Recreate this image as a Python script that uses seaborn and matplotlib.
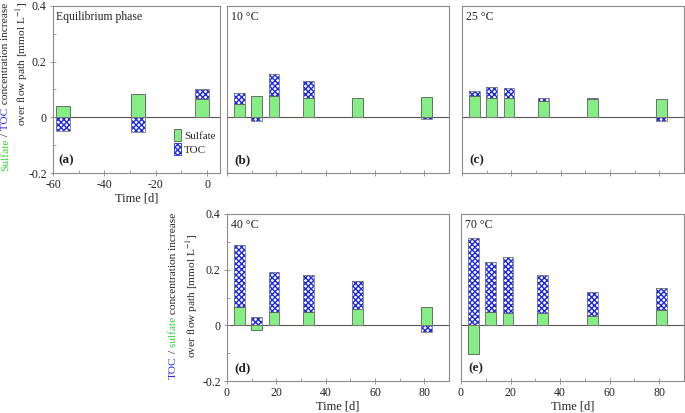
import numpy as np
import matplotlib.pyplot as plt
from matplotlib.patches import Patch
import seaborn as sns

# equilibrium phase, days before the start of the heating
eq_days = [-56, -27, -2]
eq_sulfate = [0.042, 0.085, 0.067]
eq_toc = [-0.048, -0.053, 0.033]

# sampling days for the temperature steps
days = [5, 12, 19, 33, 53, 81]
sulfate_10 = [0.049, 0.075, 0.077, 0.071, 0.070, 0.072]
toc_10 = [0.040, -0.014, 0.078, 0.058, 0.0, -0.007]
sulfate_25 = [0.078, 0.071, 0.071, 0.057, 0.065, 0.067]
toc_25 = [0.016, 0.039, 0.036, 0.011, 0.003, -0.012]
sulfate_40 = [0.067, -0.018, 0.049, 0.049, 0.059, 0.065]
toc_40 = [0.222, 0.029, 0.143, 0.131, 0.101, -0.024]
sulfate_70 = [-0.102, 0.047, 0.044, 0.043, 0.033, 0.056]
toc_70 = [0.313, 0.181, 0.202, 0.137, 0.086, 0.077]

y_ticks = [-0.2, 0, 0.2, 0.4]
y_ticklabels = ["-0.2", "0", "0.2", "0.4"]

GREEN = "#84ee84"
BLUE = "#1c2ae8"
GREEN_TXT = "#2bd42b"
BLUE_TXT = "#2a2aff"
FRAME = "#8c8c8c"
TXT = "#222222"
HATCH = "xxxxxx"

sns.set_style("ticks")
plt.rcParams["font.family"] = ["Liberation Serif", "DejaVu Serif"]
plt.rcParams["mathtext.fontset"] = "stix"
plt.rcParams["hatch.linewidth"] = 1.0

W, H = 685, 413
fig = plt.figure(figsize=(W / 100, H / 100), dpi=100)


def px_axes(left, top, right, bottom):
    return fig.add_axes([left / W, 1 - bottom / H, (right - left) / W, (bottom - top) / H])


def bar_pass(ax, x, y, width, **props):
    n = len(ax.patches)
    sns.barplot(x=x, y=y, native_scale=True, width=width, errorbar=None,
                saturation=1, ax=ax)
    for p in ax.patches[n:]:
        p.set(**props)


def draw_panel(ax, x, so4, toc, width):
    so4 = np.asarray(so4)
    toc = np.asarray(toc)
    # positive TOC sits on top of positive sulfate, negatives hang from zero
    toc_top = np.where((so4 > 0) & (toc > 0), so4 + toc, toc)
    ax.axhline(0, color="#555555", lw=0.8, zorder=0.5)
    bar_pass(ax, x, toc_top, width, facecolor="white", edgecolor=BLUE,
             hatch=HATCH, linewidth=0)
    bar_pass(ax, x, so4, width, facecolor=GREEN, edgecolor="#5a5a5a", linewidth=0.6)
    bar_pass(ax, x, toc_top, width, facecolor="none", edgecolor="#7a7a7a",
             linewidth=0.6, hatch=None)


def style(ax, xlim, xmaj, xmin, xlabels, ylabels, yticks, title, tag):
    ax.set_xlim(*xlim)
    ax.set_ylim(-0.2, 0.4)
    ax.set_xticks(xmaj)
    ax.set_xticks(xmin, minor=True)
    ax.set_xlabel("")
    ax.set_ylabel("")
    if xlabels:
        ax.set_xticklabels([str(v) for v in xmaj])
        ax.set_xlabel("Time [d]", fontsize=9, color=TXT, labelpad=1)
    else:
        ax.set_xticklabels([])
    if yticks:
        ax.set_yticks(y_ticks)
        ax.set_yticks([-0.1, 0.1, 0.3], minor=True)
        ax.set_yticklabels(y_ticklabels if ylabels else [])
    else:
        ax.set_yticks([])
        ax.tick_params(axis="y", which="both", left=False, labelleft=False)
    ax.tick_params(which="major", direction="inout", length=5, width=0.6,
                   color=FRAME, labelsize=8.5, labelcolor=TXT, pad=2)
    ax.tick_params(which="minor", direction="in", length=2.5, width=0.6, color=FRAME)
    for s in ax.spines.values():
        s.set_visible(True)
        s.set_color(FRAME)
        s.set_linewidth(0.8)
    ax.text(0.02, 0.935, title, transform=ax.transAxes, fontsize=8.5,
            color=TXT, va="center", ha="left")
    ax.text(0.035, 0.075, tag, transform=ax.transAxes, fontsize=9.5,
            fontweight="bold", color=TXT, va="center", ha="left")


ax_a = px_axes(53, 6, 220, 173)
ax_b = px_axes(227, 6, 449, 173)
ax_c = px_axes(462, 6, 684, 173)
ax_d = px_axes(227, 214, 449, 381)
ax_e = px_axes(461, 214, 684, 381)

draw_panel(ax_a, eq_days, eq_sulfate, eq_toc, 0.22)
draw_panel(ax_b, days, sulfate_10, toc_10, 0.62)
draw_panel(ax_c, days, sulfate_25, toc_25, 0.62)
draw_panel(ax_d, days, sulfate_40, toc_40, 0.62)
draw_panel(ax_e, days, sulfate_70, toc_70, 0.62)

t_maj, t_min = [0, 20, 40, 60, 80], [10, 30, 50, 70]
style(ax_a, (-60, 5), [-60, -40, -20, 0], [-50, -30, -10], True, True, True,
      "Equilibrium phase", "(a)")
style(ax_b, (0, 90), t_maj, t_min, False, False, False, "10 \u00b0C", "(b)")
style(ax_c, (0, 90), t_maj, t_min, False, False, False, "25 \u00b0C", "(c)")
style(ax_d, (0, 90), t_maj, t_min, True, True, True, "40 \u00b0C", "(d)")
style(ax_e, (0, 90), t_maj, t_min, True, False, False, "70 \u00b0C", "(e)")

handles = [Patch(facecolor=GREEN, edgecolor="#5a5a5a", linewidth=0.6, label="Sulfate"),
           Patch(facecolor="white", edgecolor=BLUE, hatch=HATCH, linewidth=0.6,
                 label="TOC")]
ax_a.legend(handles=handles, loc="lower right", bbox_to_anchor=(1.02, 0.06),
            frameon=False, fontsize=8, handlelength=0.6, handleheight=1.3,
            handletextpad=0.3, labelspacing=0.15, borderpad=0.2)

renderer = fig.canvas.get_renderer()


def vtext(x_px, yc_px, pieces, fs=8.2):
    texts = []
    for s, c in pieces:
        t = fig.text(0, 0, s, rotation=90, rotation_mode="anchor", ha="left",
                     va="center", fontsize=fs, color=c)
        texts.append(t)
    sizes = [t.get_window_extent(renderer).height for t in texts]
    y = H - yc_px - sum(sizes) / 2
    for t, h in zip(texts, sizes):
        t.set_position((x_px / W, y / H))
        y += h


vtext(6, 87, [("Sulfate", GREEN_TXT), (" /", TXT), (" TOC", BLUE_TXT),
              (" concentration increase", TXT)])
vtext(22.5, 64, [("over flow path [mmol L$^{-1}$]", TXT)])
vtext(173, 296, [("TOC", BLUE_TXT), (" /", TXT), (" sulfate", GREEN_TXT),
                 (" concentration increase", TXT)])
vtext(192, 296, [("over flow path [mmol L$^{-1}$]", TXT)])

fig.savefig("out.png", dpi=100)
